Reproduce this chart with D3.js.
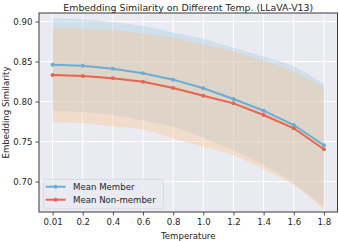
<!DOCTYPE html>
<html>
<head>
<meta charset="utf-8">
<script src="https://cdn.jsdelivr.net/npm/d3@7"></script>
<style>
  body { margin: 0; background: #fff; }
  text { font-family: "DejaVu Sans", sans-serif; fill: #262626; }
</style>
</head>
<body>
<div id="chart"></div>
<script>
// temperatures (categorical positions)
var temps = ["0.01", "0.2", "0.4", "0.6", "0.8", "1.0", "1.2", "1.4", "1.6", "1.8"];
var memberMean = [0.846, 0.8448, 0.841, 0.8352, 0.8273, 0.8165, 0.8031, 0.7885, 0.7706, 0.7452];
var memberStd = [0.058, 0.058, 0.058, 0.059, 0.059, 0.062, 0.064, 0.068, 0.073, 0.077];
var nonMean = [0.8331, 0.8319, 0.829, 0.8248, 0.8169, 0.8073, 0.7977, 0.7831, 0.7665, 0.7403];
var nonStd = [0.059, 0.059, 0.060, 0.060, 0.063, 0.064, 0.065, 0.068, 0.071, 0.076];
var yTicks = [0.70, 0.75, 0.80, 0.85, 0.90];

var W = 339, H = 241;
var margin = {top: 13, right: 1.5, bottom: 29, left: 39};
var width = W - margin.left - margin.right,
    height = H - margin.top - margin.bottom;

var svg = d3.select("#chart").append("svg")
  .attr("width", W)
  .attr("height", H);

var g = svg.append("g")
  .attr("transform", "translate(" + margin.left + "," + margin.top + ")");

var x = d3.scaleLinear().domain([-0.45, temps.length - 1 + 0.45]).range([0, width]);
var y = d3.scaleLinear().domain([0.6619, 0.9106]).range([height, 0]);

g.append("rect").attr("width", width).attr("height", height).attr("fill", "#eaeaf2");

// grid
g.selectAll(".vg").data(temps).enter().append("line")
  .attr("x1", function(d, i){ return x(i); }).attr("x2", function(d, i){ return x(i); })
  .attr("y1", 0).attr("y2", height)
  .attr("stroke", "#fff").attr("stroke-width", 1);
g.selectAll(".hg").data(yTicks).enter().append("line")
  .attr("y1", function(d){ return y(d); }).attr("y2", function(d){ return y(d); })
  .attr("x1", 0).attr("x2", width)
  .attr("stroke", "#fff").attr("stroke-width", 1);

function band(mean, std) {
  return d3.area()
    .x(function(d, i){ return x(i); })
    .y0(function(d, i){ return y(mean[i] - std[i]); })
    .y1(function(d, i){ return y(mean[i] + std[i]); })
    .curve(d3.curveMonotoneX)(mean);
}

var blue = "#6aaed6", red = "#e6654f";

g.append("path").attr("d", band(memberMean, memberStd))
  .attr("fill", "#9ecae1").attr("fill-opacity", 0.35);
g.append("path").attr("d", band(nonMean, nonStd))
  .attr("fill", "#ffbe78").attr("fill-opacity", 0.32);

var line = d3.line().x(function(d, i){ return x(i); }).y(function(d){ return y(d); });

[[memberMean, blue], [nonMean, red]].forEach(function(s) {
  g.append("path").attr("d", line(s[0])).attr("fill", "none")
    .attr("stroke", s[1]).attr("stroke-width", 2);
  g.selectAll(null).data(s[0]).enter().append("circle")
    .attr("cx", function(d, i){ return x(i); })
    .attr("cy", function(d){ return y(d); })
    .attr("r", 2).attr("fill", s[1]);
});

// axes
var xAxis = d3.axisBottom(x).tickValues(d3.range(temps.length))
  .tickFormat(function(i){ return temps[i]; }).tickSize(3.5).tickPadding(3);
var yAxis = d3.axisLeft(y).tickValues(yTicks).tickFormat(d3.format(".2f")).tickSize(3.5).tickPadding(3);

var gx = g.append("g").attr("transform", "translate(0," + height + ")").call(xAxis);
var gy = g.append("g").call(yAxis);
[gx, gy].forEach(function(a) {
  a.select(".domain").remove();
  a.selectAll("line").attr("stroke", "#262626").attr("stroke-width", 0.8);
  a.selectAll("text").style("font-size", "8.6px").attr("fill", "#262626");
});

g.append("rect").attr("width", width).attr("height", height)
  .attr("fill", "none").attr("stroke", "#3a3a3a").attr("stroke-width", 1);

// labels
svg.append("text").attr("x", margin.left + width / 2).attr("y", 11)
  .attr("text-anchor", "middle").style("font-size", "9.4px")
  .text("Embedding Similarity on Different Temp. (LLaVA-V13)");
svg.append("text").attr("x", margin.left + width / 2).attr("y", 239)
  .attr("text-anchor", "middle").style("font-size", "8.6px").text("Temperature");
svg.append("text").attr("transform", "translate(9," + (margin.top + height / 2) + ") rotate(-90)")
  .attr("text-anchor", "middle").style("font-size", "8.6px").text("Embedding Similarity");

// legend
var lg = g.append("g").attr("transform", "translate(4.7,166.3)");
lg.append("rect").attr("width", 119.6).attr("height", 29.4).attr("rx", 2)
  .attr("fill", "#eaeaf2").attr("fill-opacity", 0.85).attr("stroke", "#d5d5dd").attr("stroke-width", 0.8);
[["Mean Member", blue], ["Mean Non-member", red]].forEach(function(e, i) {
  var yy = 7.4 + i * 13;
  lg.append("line").attr("x1", 2).attr("x2", 22).attr("y1", yy).attr("y2", yy)
    .attr("stroke", e[1]).attr("stroke-width", 2);
  lg.append("circle").attr("cx", 12).attr("cy", yy).attr("r", 2).attr("fill", e[1]);
  lg.append("text").attr("x", 29.3).attr("y", yy + 3.1).style("font-size", "8.6px").text(e[0]);
});
</script>
</body>
</html>
